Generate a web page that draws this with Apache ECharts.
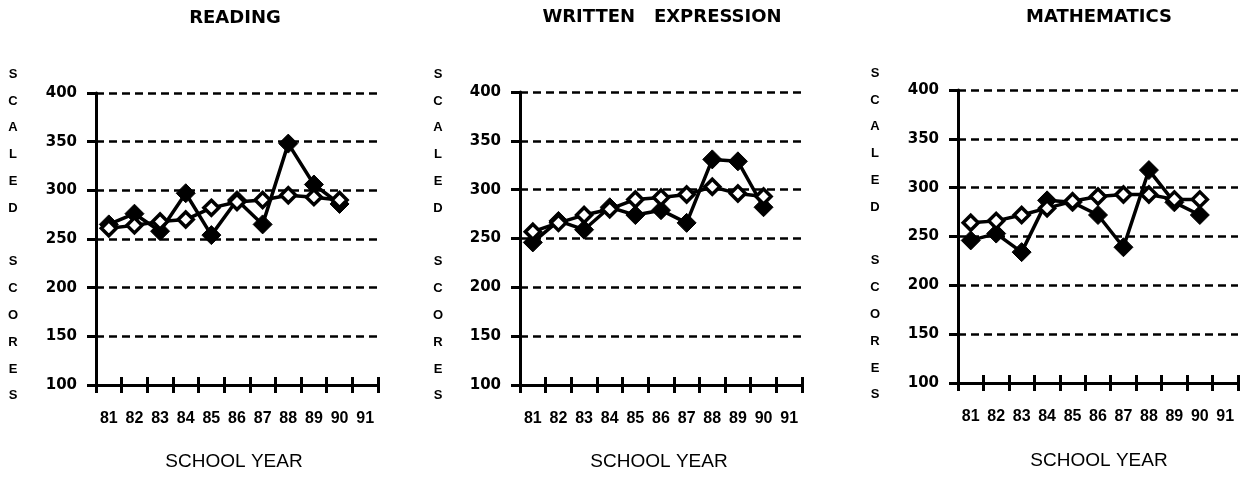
<!DOCTYPE html>
<html>
<head>
<meta charset="utf-8">
<script src="https://cdn.jsdelivr.net/npm/echarts@6/dist/echarts.min.js"></script>
<style>
html,body{margin:0;padding:0;background:#fff;}
#chart{width:1248px;height:477px;}
</style>
</head>
<body>
<div id="chart"></div>
<script>
// ---- data ----
const years = ['81','82','83','84','85','86','87','88','89','90','91'];
const yTicks = [100,150,200,250,300,350,400];
const panelTitles = ['READING', 'WRITTEN   EXPRESSION', 'MATHEMATICS'];
const xAxisTitle = 'SCHOOL YEAR';
const yAxisTitle = 'S\nC\nA\nL\nE\nD\n\nS\nC\nO\nR\nE\nS';

const readingFilled = [265,276,258,297,254,290,265,348,306,286];
const readingOpen   = [261,264,268,270,282,288,290,295,293,290];
const writtenFilled = [246,268,259,282,274,279,266,331,329,282];
const writtenOpen   = [257,266,274,280,290,292,295,303,296,293];
const mathFilled    = [246,253,234,287,285,272,239,318,285,272];
const mathOpen      = [264,266,272,279,286,291,293,293,288,288];

const panelsData = [
  [readingFilled, readingOpen],
  [writtenFilled, writtenOpen],
  [mathFilled, mathOpen]
];

// ---- layout ----
const grids = [
  {left: 96, top: 93, width: 282, height: 292},
  {left: 520, top: 92, width: 282, height: 293},
  {left: 958, top: 90, width: 280, height: 293}
];
const titlePos = [[235, 18], [662, 17], [1099, 17]];
const xNamePos = [[234, 462], [659, 462], [1099, 461]];
const yNamePos = [[13, 235], [438, 235], [875, 234]];

const FONT = '"Liberation Sans", Arial, Helvetica, sans-serif';

const xAxes = [], yAxes = [], series = [], graphics = [];

grids.forEach((g, i) => {
  // main x axis: line, outward ticks, labels
  xAxes.push({
    type: 'category', gridIndex: i, position: 'bottom', data: years, boundaryGap: true,
    axisLine: {show: true, lineStyle: {color: '#000', width: 3}},
    axisTick: {show: true, interval: 0, length: 8, lineStyle: {color: '#000', width: 3}},
    axisLabel: {show: true, interval: 0, margin: 26, color: '#000', fontSize: 16, fontWeight: 'bold', fontFamily: FONT},
    splitLine: {show: false}
  });
  // overlay x axis: inward ticks so the ticks cross the axis line
  xAxes.push({
    type: 'category', gridIndex: i, position: 'bottom', data: years, boundaryGap: true,
    axisLine: {show: false},
    axisTick: {show: true, inside: true, interval: 0, length: 8, lineStyle: {color: '#000', width: 3}},
    axisLabel: {show: false},
    splitLine: {show: false}
  });
  yAxes.push({
    type: 'value', gridIndex: i,
    min: yTicks[0], max: yTicks[yTicks.length - 1], interval: yTicks[1] - yTicks[0],
    axisLine: {show: true, lineStyle: {color: '#000', width: 3}},
    axisTick: {show: true, length: 9, lineStyle: {color: '#000', width: 3}},
    axisLabel: {show: true, margin: 19, color: '#000', fontSize: 15, fontWeight: 'bold', fontFamily: '"DejaVu Sans", sans-serif'},
    splitLine: {show: true, lineStyle: {color: '#000', width: 2.5, type: [8, 5]}}
  });
  const [filled, open] = panelsData[i];
  series.push({
    type: 'line', xAxisIndex: i * 2, yAxisIndex: i, data: filled,
    symbol: 'diamond', symbolSize: [19, 19], showSymbol: true,
    lineStyle: {color: '#000', width: 3.5},
    itemStyle: {color: '#000', borderColor: '#000', borderWidth: 1},
    emphasis: {disabled: true}, animation: false, z: 2
  });
  series.push({
    type: 'line', xAxisIndex: i * 2, yAxisIndex: i, data: open,
    symbol: 'diamond', symbolSize: [15, 15], showSymbol: true,
    lineStyle: {color: '#000', width: 3.5},
    itemStyle: {color: '#fff', borderColor: '#000', borderWidth: 3.5},
    emphasis: {disabled: true}, animation: false, z: 3
  });
  graphics.push({
    type: 'text', x: titlePos[i][0], y: titlePos[i][1],
    style: {text: panelTitles[i], fill: '#000', fontSize: 18, fontWeight: 'bold',
            fontFamily: '"DejaVu Sans", sans-serif', align: 'center', verticalAlign: 'middle'}
  });
  graphics.push({
    type: 'text', x: xNamePos[i][0], y: xNamePos[i][1],
    style: {text: xAxisTitle, fill: '#000', fontSize: 19, fontFamily: FONT,
            align: 'center', verticalAlign: 'middle'}
  });
  graphics.push({
    type: 'text', x: yNamePos[i][0], y: yNamePos[i][1],
    style: {text: yAxisTitle, fill: '#000', fontSize: 13, fontWeight: 'bold', fontFamily: FONT,
            lineHeight: 26.8, align: 'center', verticalAlign: 'middle'}
  });
});

const chart = echarts.init(document.getElementById('chart'), null, {renderer: 'canvas'});
chart.setOption({
  backgroundColor: '#fff',
  animation: false,
  grid: grids,
  xAxis: xAxes,
  yAxis: yAxes,
  series: series,
  graphic: graphics
});
</script>
</body>
</html>
